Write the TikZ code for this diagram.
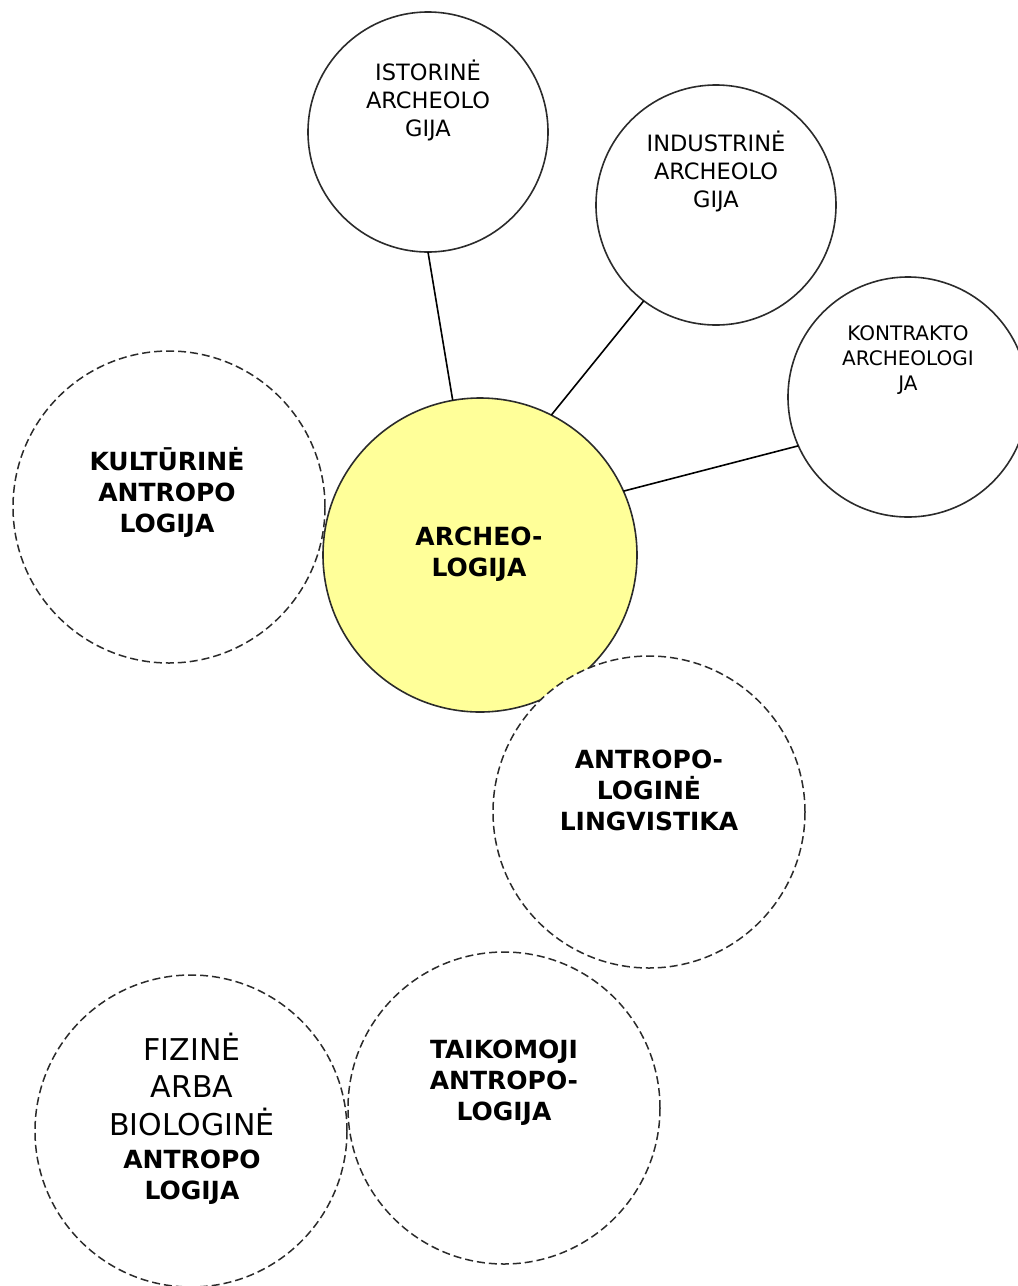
\documentclass[tikz,border=0pt]{standalone}
\usepackage{fontspec}
\setmainfont{DejaVu Sans}
\definecolor{archyellow}{HTML}{FFFF99}
\definecolor{edgegray}{HTML}{2B2B2B}
\begin{document}
\begin{tikzpicture}[x=1pt,y=-1pt,
  solidcirc/.style={circle,draw=edgegray,line width=1.6pt,inner sep=0pt,outer sep=0pt,minimum size=240pt},
  dashcirc/.style={circle,draw=edgegray,line width=1.5pt,dash pattern=on 8pt off 4pt,inner sep=0pt,outer sep=0pt,minimum size=312pt},
  archcirc/.style={circle,draw=edgegray,fill=archyellow,line width=1.6pt,inner sep=0pt,outer sep=0pt,minimum size=314pt},
  lblreg/.style={align=center,inner sep=0pt,font=\fontsize{22.5}{28}\selectfont},
  lblsmall/.style={align=center,inner sep=0pt,font=\fontsize{20}{25}\selectfont},
  lblbig/.style={align=center,inner sep=0pt,font=\fontsize{30}{37.5}\selectfont},
  lblbold/.style={align=center,inner sep=0pt,font=\fontsize{25}{31}\selectfont\bfseries},
  link/.style={draw=black,line width=1.6pt}
]
\useasboundingbox (0,0) rectangle (1018,1286);
\clip (0,0) rectangle (1018,1286);

% solid circles
\node[solidcirc] (istor) at (428,132) {};
\node[solidcirc] (indus) at (716,205) {};
\node[solidcirc] (kontr) at (908,397) {};

% central circle
\node[archcirc] (arch) at (480,555) {};

% dashed circles
\node[dashcirc] (kult) at (169,507) {};
\node[dashcirc,fill=white] (ling) at (649,812) {};
\node[dashcirc] (fiz) at (191,1131) {};
\node[dashcirc] (taik) at (504,1108) {};

% connectors
\draw[link] (istor.south) -- (arch.100);
\draw[link] (indus.233) -- (arch.63);
\draw[link] (kontr.204) -- (arch.24);

% labels
\node[lblreg] (istorT) at (428,100) {ISTORINĖ\\ARCHEOLO\\GIJA};
\node[lblreg] (indusT) at (716,171) {INDUSTRINĖ\\ARCHEOLO\\GIJA};
\node[lblsmall] (kontrT) at (908,360) {KONTRAKTO\\ARCHEOLOGI\\JA};
\node[lblbold] (archT) at (479,554) {ARCHEO-\\LOGIJA};
\node[lblbold] (kultT) at (167,492) {KULTŪRINĖ\\ANTROPO\\LOGIJA};
\node[lblbold] (lingT) at (649,790) {ANTROPO-\\LOGINĖ\\LINGVISTIKA};
\node[lblbold] (taikT) at (504,1083) {TAIKOMOJI\\ANTROPO-\\LOGIJA};
\node[lblbig] (fizT) at (192,1084) {FIZINĖ\\ARBA\\BIOLOGINĖ};
\node[lblbold] (fizB) at (192,1177) {ANTROPO\\LOGIJA};
\end{tikzpicture}
\end{document}
